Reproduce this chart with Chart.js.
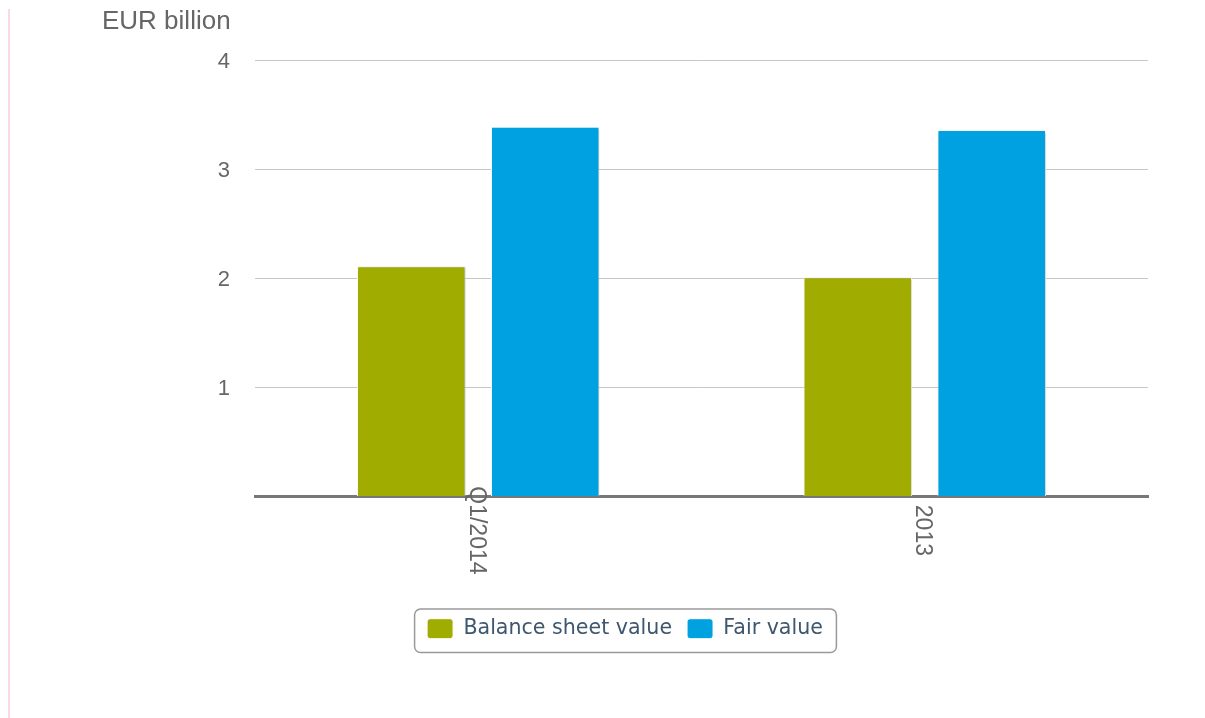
<!DOCTYPE html>
<html>
<head>
<meta charset="utf-8">
<script src="https://cdn.jsdelivr.net/npm/chart.js@4/dist/chart.umd.min.js"></script>
<style>
  html, body { margin: 0; padding: 0; background: #fff; }
  .wrap { position: relative; width: 1205px; height: 718px; }
  .rule { position: absolute; left: 8px; top: 9px; width: 2px; bottom: 0; background: #fcd9e4; }
  canvas { position: absolute; left: 0; top: 0; }
</style>
</head>
<body>
<div class="wrap">
  <div class="rule"></div>
  <canvas id="grafico" width="1205" height="718"></canvas>
</div>
<script>
// dados do gráfico
const periodos = ['Q1/2014', '2013'];
const valorBalanco = [2.11, 2.01];
const valorJusto = [3.39, 3.36];
const ticksY = [0, 1, 2, 3, 4];

// sombra leve atrás das barras
const sombraBarras = {
  id: 'sombraBarras',
  beforeDatasetsDraw(chart) {
    const ctx = chart.ctx;
    ctx.save();
    ctx.shadowColor = 'rgba(0,0,0,0.25)';
    ctx.shadowBlur = 3;
    ctx.shadowOffsetX = 1;
    ctx.shadowOffsetY = 1;
  },
  afterDatasetsDraw(chart) {
    chart.ctx.restore();
  }
};

// rótulos do eixo X girados 90 graus (lendo de cima para baixo)
const rotulosX = {
  id: 'rotulosX',
  afterDraw(chart) {
    const ctx = chart.ctx;
    const x = chart.scales.x;
    const y = chart.chartArea.bottom + 34;
    ctx.save();
    ctx.font = '23px "Liberation Sans", Arial, sans-serif';
    ctx.fillStyle = '#666666';
    ctx.textAlign = 'center';
    ctx.textBaseline = 'middle';
    x.ticks.forEach((t, i) => {
      ctx.save();
      ctx.translate(x.getPixelForTick(i) - 2, y);
      ctx.rotate(Math.PI / 2);
      ctx.fillText(periodos[i], 0, 0);
      ctx.restore();
    });
    ctx.restore();
  }
};

// moldura arredondada em volta da legenda
const molduraLegenda = {
  id: 'molduraLegenda',
  afterDraw(chart) {
    const boxes = chart.legend.legendHitBoxes;
    if (!boxes || !boxes.length) return;
    const left = Math.min(...boxes.map(b => b.left)) - 13;
    const right = Math.max(...boxes.map(b => b.left + b.width)) + 13;
    const top = boxes[0].top - 10;
    const bottom = boxes[0].top + boxes[0].height + 13;
    const ctx = chart.ctx;
    ctx.save();
    ctx.strokeStyle = '#999999';
    ctx.lineWidth = 1.5;
    ctx.beginPath();
    ctx.roundRect(left + 0.5, top + 0.5, right - left, bottom - top, 6);
    ctx.stroke();
    ctx.restore();
  }
};

const ctx = document.getElementById('grafico').getContext('2d');
new Chart(ctx, {
  type: 'bar',
  data: {
    labels: periodos,
    datasets: [{
      label: 'Balance sheet value',
      data: valorBalanco,
      backgroundColor: '#a0ac00',
      borderColor: '#ffffff',
      borderWidth: 1
    }, {
      label: 'Fair value',
      data: valorJusto,
      backgroundColor: '#00a1e1',
      borderColor: '#ffffff',
      borderWidth: 1
    }]
  },
  options: {
    responsive: false,
    animation: false,
    layout: { padding: { left: 102, right: 57, top: 0, bottom: 69 } },
    datasets: { bar: { categoryPercentage: 0.6, barPercentage: 0.81 } },
    scales: {
      x: {
        grid: { display: false },
        border: { display: true, color: '#777777', width: 3 },
        ticks: { display: false },
        afterFit(scale) { scale.height = 107; }
      },
      y: {
        min: ticksY[0],
        max: ticksY[ticksY.length - 1],
        afterBuildTicks(scale) { scale.ticks = ticksY.map(v => ({ value: v })); },
        afterFit(scale) { scale.width = 153; },
        border: { display: false },
        grid: {
          drawTicks: false,
          color: c => (c.tick && c.tick.value === 0) ? 'rgba(0,0,0,0)' : '#c6c6c6',
          lineWidth: 1
        },
        ticks: {
          padding: 25,
          labelOffset: 2,
          color: '#666666',
          font: { family: '"Liberation Sans", Arial, sans-serif', size: 22 },
          callback: v => v === 0 ? '' : v
        }
      }
    },
    plugins: {
      tooltip: { enabled: false },
      title: {
        display: true,
        text: 'EUR billion',
        align: 'start',
        color: '#666666',
        font: { family: '"Liberation Sans", Arial, sans-serif', size: 26, weight: 'normal' },
        padding: { top: 6, bottom: 23 }
      },
      legend: {
        position: 'bottom',
        labels: {
          boxWidth: 26,
          boxHeight: 20,
          useBorderRadius: true,
          borderRadius: 3,
          padding: 15,
          color: '#3e576f',
          font: { family: '"DejaVu Sans", Verdana, sans-serif', size: 20.6 }
        }
      }
    }
  },
  plugins: [sombraBarras, rotulosX, molduraLegenda]
});
</script>
</body>
</html>
